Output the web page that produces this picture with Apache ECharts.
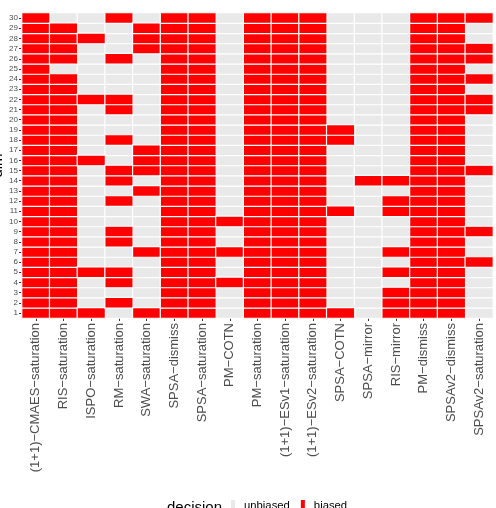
<!DOCTYPE html>
<html>
<head>
<meta charset="utf-8">
<script src="https://cdn.jsdelivr.net/npm/echarts@6/dist/echarts.min.js"></script>
<style>
  html, body { margin: 0; padding: 0; background: #fff; }
  #chart { width: 496px; height: 508px; }
</style>
</head>
<body>
<div id="chart"></div>
<script>
// 算法（x 轴）
var algorithms = [
  '(1+1)−CMAES−saturation', 'RIS−saturation', 'ISPO−saturation', 'RM−saturation',
  'SWA−saturation', 'SPSA−dismiss', 'SPSA−saturation', 'PM−COTN', 'PM−saturation',
  '(1+1)−ESv1−saturation', '(1+1)−ESv2−saturation', 'SPSA−COTN', 'SPSA−mirror',
  'RIS−mirror', 'PM−dismiss', 'SPSAv2−dismiss', 'SPSAv2−saturation'
];
// 维度（y 轴）
var dims = [];
for (var d = 1; d <= 30; d++) dims.push(String(d));

var decisionNames = ['unbiased', 'biased'];

// 每个算法在 dim 1..30 上的结果，1 = biased, 0 = unbiased
var cmaesSat   = [1,1,1,1,1,1,1,1,1,1, 1,1,1,1,1,1,1,1,1,1, 1,1,1,1,1,1,1,1,1,1];
var risSat     = [1,1,1,1,1,1,1,1,1,1, 1,1,1,1,1,1,1,1,1,1, 1,1,1,1,0,1,1,1,1,0];
var ispoSat    = [1,0,0,0,1,0,0,0,0,0, 0,0,0,0,0,1,0,0,0,0, 0,1,0,0,0,0,0,1,0,0];
var rmSat      = [0,1,0,1,1,0,0,1,1,0, 0,1,0,1,1,0,0,1,0,0, 1,1,0,0,0,1,0,0,0,1];
var swaSat     = [1,0,0,0,0,0,1,0,0,0, 0,0,1,0,1,1,1,0,0,0, 0,0,0,0,0,0,1,1,1,0];
var spsaDis    = [1,1,1,1,1,1,1,1,1,1, 1,1,1,1,1,1,1,1,1,1, 1,1,1,1,1,1,1,1,1,1];
var spsaSat    = [1,1,1,1,1,1,1,1,1,1, 1,1,1,1,1,1,1,1,1,1, 1,1,1,1,1,1,1,1,1,1];
var pmCotn     = [0,0,0,1,0,0,1,0,0,1, 0,0,0,0,0,0,0,0,0,0, 0,0,0,0,0,0,0,0,0,0];
var pmSat      = [1,1,1,1,1,1,1,1,1,1, 1,1,1,1,1,1,1,1,1,1, 1,1,1,1,1,1,1,1,1,1];
var esv1Sat    = [1,1,1,1,1,1,1,1,1,1, 1,1,1,1,1,1,1,1,1,1, 1,1,1,1,1,1,1,1,1,1];
var esv2Sat    = [1,1,1,1,1,1,1,1,1,1, 1,1,1,1,1,1,1,1,1,1, 1,1,1,1,1,1,1,1,1,1];
var spsaCotn   = [1,0,0,0,0,0,0,0,0,0, 1,0,0,0,0,0,0,1,1,0, 0,0,0,0,0,0,0,0,0,0];
var spsaMirror = [0,0,0,0,0,0,0,0,0,0, 0,0,0,1,0,0,0,0,0,0, 0,0,0,0,0,0,0,0,0,0];
var risMirror  = [1,1,1,0,1,0,1,0,0,0, 1,1,0,1,0,0,0,0,0,0, 0,0,0,0,0,0,0,0,0,0];
var pmDis      = [1,1,1,1,1,1,1,1,1,1, 1,1,1,1,1,1,1,1,1,1, 1,1,1,1,1,1,1,1,1,1];
var spsav2Dis  = [1,1,1,1,1,1,1,1,1,1, 1,1,1,1,1,1,1,1,1,1, 1,1,1,1,1,1,1,1,1,1];
var spsav2Sat  = [0,0,0,0,0,1,0,0,1,0, 0,0,0,0,1,0,0,0,0,0, 1,1,0,1,0,1,1,0,0,1];

var columns = [cmaesSat, risSat, ispoSat, rmSat, swaSat, spsaDis, spsaSat, pmCotn, pmSat,
  esv1Sat, esv2Sat, spsaCotn, spsaMirror, risMirror, pmDis, spsav2Dis, spsav2Sat];

// 拆成两个系列，方便图例
var unbiasedData = [];
var biasedData = [];
columns.forEach(function (col, i) {
  col.forEach(function (v, j) {
    if (v === 1) biasedData.push([i, j, 1]);
    else unbiasedData.push([i, j, 0]);
  });
});

var chart = echarts.init(document.getElementById('chart'));
var font = 'Liberation Sans, Arial, sans-serif';

chart.setOption({
  animation: false,
  textStyle: { fontFamily: font },
  grid: { left: 22, right: 3, top: 13, bottom: 190, outerBoundsMode: 'none', containLabel: false },
  xAxis: {
    type: 'category',
    data: algorithms,
    axisLine: { show: false },
    axisTick: { show: true, alignWithLabel: true, length: 3, lineStyle: { color: '#333' } },
    axisLabel: { rotate: 90, interval: 0, fontSize: 13, color: '#4D4D4D', margin: 5, padding: [4, 0, 0, 0], fontFamily: font },
    splitLine: { show: false }
  },
  yAxis: {
    type: 'category',
    data: dims,
    name: 'dim',
    nameLocation: 'middle',
    nameGap: 17,
    nameMoveOverlap: false,
    nameTextStyle: { fontSize: 15, color: '#000', fontFamily: font },
    axisLine: { show: false },
    axisTick: { show: true, alignWithLabel: true, interval: 0, length: 3, lineStyle: { color: '#333' } },
    axisLabel: { interval: 0, fontSize: 8, color: '#4D4D4D', margin: 4, fontFamily: font },
    splitLine: { show: false }
  },
  legend: {
    data: decisionNames,
    left: 229,
    top: 498,
    padding: 0,
    icon: 'rect',
    itemWidth: 6,
    itemHeight: 14,
    itemGap: 9,
    textStyle: { fontSize: 11.3, color: '#000', padding: [0, 0, 0, 3], fontFamily: font }
  },
  graphic: [{
    type: 'text',
    left: 167,
    top: 500,
    style: { text: 'decision', fontSize: 15, fill: '#000', fontFamily: font }
  }],
  series: [
    {
      name: decisionNames[0],
      type: 'heatmap',
      data: unbiasedData,
      itemStyle: { color: '#E9E9E9', borderColor: '#fff', borderWidth: 1.2 },
      emphasis: { disabled: true }
    },
    {
      name: decisionNames[1],
      type: 'heatmap',
      data: biasedData,
      itemStyle: { color: '#FF0000', borderColor: '#fff', borderWidth: 1.2 },
      emphasis: { disabled: true }
    }
  ]
});
</script>
</body>
</html>
